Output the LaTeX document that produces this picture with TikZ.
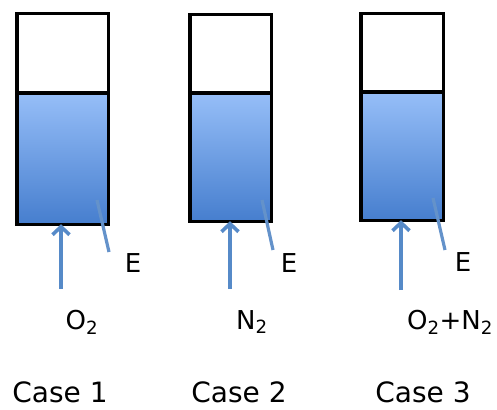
\documentclass[tikz,border=0pt]{standalone}
\usepackage{fontspec}
\setmainfont{DejaVu Sans}
\usetikzlibrary{arrows.meta,shadows}
\definecolor{liqtop}{RGB}{150,190,248}
\definecolor{liqbot}{RGB}{70,126,206}
\definecolor{feedblue}{RGB}{86,138,200}
\definecolor{leadblue}{RGB}{100,146,202}

\begin{document}
\begin{tikzpicture}[x=1pt,y=-1pt,
		tube/.style={draw=black,line width=3.5pt,inner sep=0pt,outer sep=0pt,
			drop shadow={shadow xshift=1.2pt,shadow yshift=-1.2pt,opacity=.3}},
		gas/.style={tube,fill=white,anchor=south},
		liquid/.style={tube,top color=liqtop,bottom color=liqbot,anchor=north},
		feed/.style={draw=feedblue,line width=3.4pt,
			-{Straight Barb[length=8pt,width=17pt,line width=3.6pt]}},
		lead/.style={draw=leadblue,line width=3.2pt},
		lbl/.style={font=\fontsize{26}{30}\selectfont,inner sep=0pt},
		case/.style={font=\fontsize{28}{32}\selectfont,inner sep=0pt}]
	\useasboundingbox (0,0) rectangle (497,409);
	% case 1
	\node[liquid,minimum width=91.5pt,minimum height=131.25pt] (l1) at (62.5,93) {};
	\node[gas,minimum width=91.5pt,minimum height=79.25pt] (g1) at (62.5,93) {};
	\coordinate (in1) at (61,289);
	\draw[feed] (in1) -- (in1 |- l1.south);
	\coordinate (e1a) at (97,200);
	\coordinate (e1b) at (109,252);
	\draw[lead] (e1a) -- (e1b);
	\node[lbl] (e1) at (133,263) {E};
	\node[lbl] (gas1) at (82,322) {O\textsubscript{2}};
	\node[case] (c1) at (60,392) {Case 1};
	% case 2
	\node[liquid,minimum width=81.5pt,minimum height=128.25pt] (l2) at (230.5,93) {};
	\node[gas,minimum width=81.5pt,minimum height=78.25pt] (g2) at (230.5,93) {};
	\coordinate (in2) at (230,289);
	\draw[feed] (in2) -- (in2 |- l2.south);
	\coordinate (e2a) at (262,200);
	\coordinate (e2b) at (273,250);
	\draw[lead] (e2a) -- (e2b);
	\node[lbl] (e2) at (289,263) {E};
	\node[lbl] (gas2) at (252,322) {N\textsubscript{2}};
	\node[case] (c2) at (239,392) {Case 2};
	% case 3
	\node[liquid,minimum width=82.5pt,minimum height=128.25pt] (l3) at (402,92) {};
	\node[gas,minimum width=82.5pt,minimum height=78.25pt] (g3) at (402,92) {};
	\coordinate (in3) at (401,290);
	\draw[feed] (in3) -- (in3 |- l3.south);
	\coordinate (e3a) at (433,198);
	\coordinate (e3b) at (445,250);
	\draw[lead] (e3a) -- (e3b);
	\node[lbl] (e3) at (463,262) {E};
	\node[lbl] (gas3) at (450,322) {O\textsubscript{2}+N\textsubscript{2}};
	\node[case] (c3) at (423,392) {Case 3};
\end{tikzpicture}
\end{document}
